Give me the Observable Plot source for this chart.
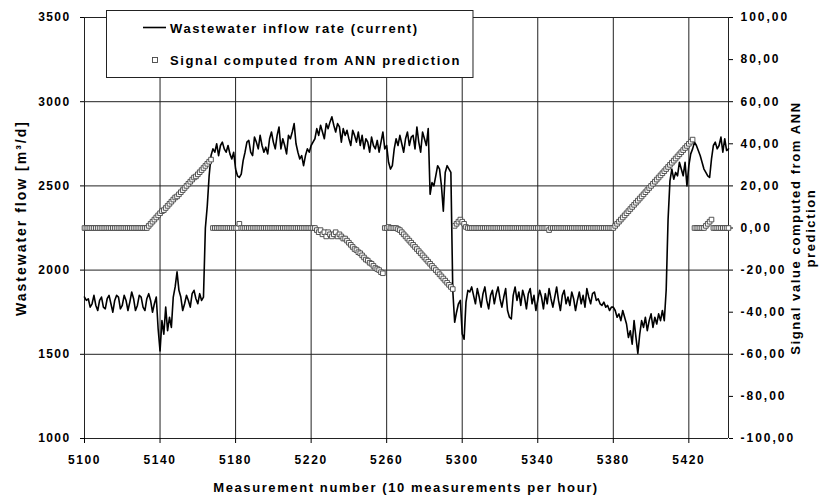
<!DOCTYPE html>
<html>
<head>
<meta charset="utf-8">
<script src="https://cdn.jsdelivr.net/npm/d3@7"></script>
<script src="https://cdn.jsdelivr.net/npm/@observablehq/plot@0.6"></script>
<style>
  html, body { margin: 0; padding: 0; background: #fff; }
  #chart svg { display: block; }
</style>
</head>
<body>
<div id="chart"></div>
<script>
// ---- data ----
const startMeasurement = 5100;
// Wastewater inflow rate (m3/d), one value per measurement from 5100
const flowValues = [
  1840, 1820, 1830, 1780, 1800, 1850, 1790, 1760, 1820, 1840,
  1780, 1770, 1830, 1850, 1800, 1750, 1820, 1850, 1840, 1770,
  1790, 1850, 1820, 1760, 1810, 1870, 1830, 1760, 1790, 1850,
  1840, 1780, 1760, 1830, 1860, 1820, 1750, 1800, 1840, 1650,
  1520, 1700, 1620, 1780, 1640, 1720, 1660, 1840, 1900, 1990,
  1880, 1840, 1760, 1800, 1850, 1820, 1780, 1860, 1880, 1830,
  1800, 1860, 1820, 1840, 2250, 2380, 2560, 2680, 2720, 2700,
  2750, 2680, 2740, 2760, 2720, 2700, 2740, 2690, 2660, 2700,
  2600, 2560, 2550, 2570, 2650, 2700, 2760, 2770, 2700, 2680,
  2790, 2760, 2720, 2800, 2740, 2700, 2730, 2690, 2780, 2820,
  2760, 2720, 2800, 2850, 2720, 2780, 2740, 2690, 2800, 2780,
  2820, 2870, 2750, 2700, 2660, 2680, 2620, 2680, 2720, 2700,
  2740, 2760, 2780, 2840, 2800, 2860, 2820, 2780, 2870, 2840,
  2880, 2910, 2860, 2820, 2870, 2850, 2760, 2840, 2800, 2830,
  2780, 2740, 2830, 2800, 2760, 2820, 2740, 2800, 2720, 2780,
  2760, 2700, 2790, 2740, 2720, 2770, 2700, 2760, 2820, 2720,
  2740, 2640, 2600, 2620, 2720, 2780, 2740, 2800, 2750, 2700,
  2780, 2820, 2740, 2790, 2800, 2720, 2850, 2760, 2700, 2820,
  2780, 2740, 2840, 2450, 2520, 2500, 2560, 2620, 2600, 2500,
  2350, 2580, 2620, 2600, 2580, 1880, 1690, 1750, 1800, 1820,
  1620, 1590, 1810, 1880, 1870, 1900, 1850, 1800, 1890, 1840,
  1780, 1860, 1900, 1820, 1770, 1850, 1880, 1800, 1860, 1900,
  1830, 1780, 1840, 1890, 1760, 1720, 1710, 1850, 1900, 1820,
  1870, 1790, 1880, 1840, 1770, 1860, 1890, 1800, 1850, 1760,
  1820, 1880, 1840, 1770, 1860, 1800, 1890, 1830, 1780, 1840,
  1900, 1820, 1760, 1850, 1880, 1800, 1840, 1790, 1870, 1830,
  1760, 1820, 1870, 1800, 1850, 1780, 1890, 1840, 1800, 1860,
  1870, 1820, 1830, 1800, 1790, 1810, 1780, 1790, 1760, 1780,
  1780, 1760, 1720, 1740, 1700, 1760, 1720, 1680, 1600, 1640,
  1560, 1700, 1600, 1505, 1620, 1700, 1660, 1720, 1640, 1700,
  1740, 1660, 1720, 1680, 1740, 1700, 1760, 1700, 1880, 2300,
  2530, 2600, 2540, 2580, 2560, 2640, 2600, 2560, 2640, 2500,
  2620, 2690, 2720, 2760, 2740, 2710, 2680, 2640, 2600, 2580,
  2560, 2550, 2660, 2740, 2760, 2720, 2740, 2790, 2700, 2780,
  2710, 2720
];
// Signal computed from ANN prediction, one value per measurement from 5100
const signalValues = [
  0, 0, 0, 0, 0, 0, 0, 0, 0, 0,
  0, 0, 0, 0, 0, 0, 0, 0, 0, 0,
  0, 0, 0, 0, 0, 0, 0, 0, 0, 0,
  0, 0, 0, 0, 1, 2, 3, 4, 5, 6,
  7, 8, 8.5, 9.5, 10.5, 11.5, 12.5, 13.5, 14.5, 15,
  16, 17, 18, 19, 20, 21, 22, 23, 24, 24.5,
  25.5, 26.5, 27.5, 28.5, 29.5, 30.5, 31.5, 32.5, 0, 0,
  0, 0, 0, 0, 0, 0, 0, 0, 0, 0,
  0, 0, 2, 0, 0, 0, 0, 0, 0, 0,
  0, 0, 0, 0, 0, 0, 0, 0, 0, 0,
  0, 0, 0, 0, 0, 0, 0, 0, 0, 0,
  0, 0, 0, 0, 0, 0, 0, 0, 0, 0,
  0, 0, 0, -1, -2, -1, -3, -2, -4, -2,
  -3, -4, -3, -2, -4, -3, -4, -5, -5, -6,
  -7, -8, -9, -10, -10.5, -11.5, -12, -13, -14, -15,
  -15.5, -16.5, -17, -18, -19, -19.5, -20, -21, -21.5, 0,
  0, 0.5, 0, 0, 0, 0, -0.5, -1, -2, -3,
  -4, -5, -6, -7, -8, -9, -10, -11, -12, -13,
  -14, -15, -16, -17, -18, -19, -20, -21, -22, -23,
  -24, -25, -26, -27, -28, -29, 1, 2, 3, 4,
  3, 2, 0.5, 0, 0, 0, 0, 0, 0, 0,
  0, 0, 0, 0, 0, 0, 0, 0, 0, 0,
  0, 0, 0, 0, 0, 0, 0, 0, 0, 0,
  0, 0, 0, 0, 0, 0, 0, 0, 0, 0,
  0, 0, 0, 0, 0, 0, -1, 0, 0, 0,
  0, 0, 0, 0, 0, 0, 0, 0, 0, 0,
  0, 0, 0, 0, 0, 0, 0, 0, 0, 0,
  0, 0, 0, 0, 0, 0, 0, 0, 0, 0,
  0, 1, 2, 3, 4, 5, 6, 7, 8, 9,
  10, 11, 12, 13, 14, 15, 16, 17, 18, 19,
  20, 21, 22, 23, 24, 25, 26, 27, 28, 29,
  30, 31, 32, 33, 34, 35, 36, 37, 38, 39,
  40, 41, 42, 0, 0, 0, 0, 0, 0, 1,
  2, 3, 4, 0, 0, 0, 0, 0, 0, 0,
  0, 0
];
const xTicks = [5100, 5140, 5180, 5220, 5260, 5300, 5340, 5380, 5420];
const flowTicks = [1000, 1500, 2000, 2500, 3000, 3500];
const signalTicks = [-100, -80, -60, -40, -20, 0, 20, 40, 60, 80, 100];
const xDomain = [5100, 5441];
const flowDomain = [1000, 3500];
const signalDomain = [-100, 100];
const seriesNames = ["Wastewater inflow rate (current)", "Signal computed from ANN prediction"];
const xTitle = "Measurement number (10 measurements per hour)";
const leftTitle = "Wastewater flow [m³/d]";
const rightTitle = ["Signal value computed from ANN", "prediction"];

// ---- build tables ----
const flowData = flowValues.map((v, i) => ({m: startMeasurement + i, v}));
const signalData = signalValues.map((s, i) => ({m: startMeasurement + i, s}));
// map secondary (signal) axis onto primary flow scale
const sigToFlow = d3.scaleLinear().domain(signalDomain).range(flowDomain);

const FONT = "'Liberation Sans', Arial, sans-serif";
const chart = Plot.plot({
  width: 820,
  height: 497,
  marginLeft: 84,
  marginRight: 92,
  marginTop: 17,
  marginBottom: 59,
  style: {fontFamily: FONT, fontSize: "12px", fontWeight: "bold", color: "#000", background: "#fff", overflow: "visible"},
  x: {domain: xDomain},
  y: {domain: flowDomain},
  marks: [
    Plot.gridX(xTicks.slice(1), {stroke: "#222", strokeOpacity: 1, strokeWidth: 1}),
    Plot.gridY(flowTicks, {stroke: "#222", strokeOpacity: 1, strokeWidth: 1}),
    Plot.ruleX([xDomain[0], xDomain[1]], {stroke: "#222", strokeWidth: 1}),
    Plot.axisX({ticks: xTicks, tickSize: 5, tickPadding: 12, label: null, tickFormat: d => String(d)}),
    Plot.axisY({anchor: "left", ticks: flowTicks, tickSize: 4, tickPadding: 10, label: null, tickFormat: d => String(d)}),
    Plot.axisY({anchor: "right", ticks: signalTicks.map(t => sigToFlow(t)), tickSize: 4, tickPadding: 8, label: null,
      tickFormat: v => sigToFlow.invert(v).toFixed(2).replace(".", ",")}),
    Plot.line(flowData, {x: "m", y: "v", stroke: "#000", strokeWidth: 1.6, curve: "linear"}),
    Plot.dot(signalData, {x: "m", y: d => sigToFlow(d.s), symbol: "square", r: 2.6, stroke: "#444", strokeWidth: 0.9, fill: "#fff"})
  ]
});
document.getElementById("chart").appendChild(chart);

const svg = d3.select(chart);
// letter spacing of tick labels (reference text is widely spaced)
svg.selectAll("g[aria-label='x-axis tick label'] text").attr("letter-spacing", 1.6);
svg.selectAll("g[aria-label='y-axis tick label']").each(function() {
  const g = d3.select(this);
  const right = g.attr("text-anchor") === "start";
  g.selectAll("text").attr("letter-spacing", right ? 2 : 1.4);
});

// ---- titles and legend (drawn into the same svg) ----
const txt = (x, y, s, anchor, rot, size, ls) => {
  const t = svg.append("text").attr("x", x).attr("y", y).text(s)
    .attr("font-family", FONT).attr("font-size", size || 13).attr("font-weight", "bold")
    .attr("letter-spacing", ls == null ? 1.6 : ls)
    .attr("text-anchor", anchor || "start").attr("fill", "#000");
  if (rot) t.attr("transform", `rotate(${rot},${x},${y})`);
  return t;
};
txt(406, 492, xTitle, "middle");
txt(26, 218, leftTitle, "middle", -90, 14, 2);
txt(800, 228, rightTitle[0], "middle", -90);
txt(815, 228, rightTitle[1], "middle", -90);

const lg = svg.append("g");
const box = lg.append("rect").attr("x", 106.5).attr("y", 10.5).attr("height", 67)
  .attr("fill", "#fff").attr("stroke", "#222").attr("stroke-width", 1);
lg.append("line").attr("x1", 143).attr("x2", 166).attr("y1", 27.5).attr("y2", 27.5)
  .attr("stroke", "#000").attr("stroke-width", 1.6);
const t1 = txt(170, 33, seriesNames[0]);
lg.append("rect").attr("x", 152.5).attr("y", 57.5).attr("width", 5).attr("height", 5)
  .attr("fill", "#fff").attr("stroke", "#444").attr("stroke-width", 0.9);
const t2 = txt(170, 65, seriesNames[1]);
const w = Math.max(t1.node().getComputedTextLength(), t2.node().getComputedTextLength());
box.attr("width", 170 + w + 12 - 106.5);
</script>
</body>
</html>
